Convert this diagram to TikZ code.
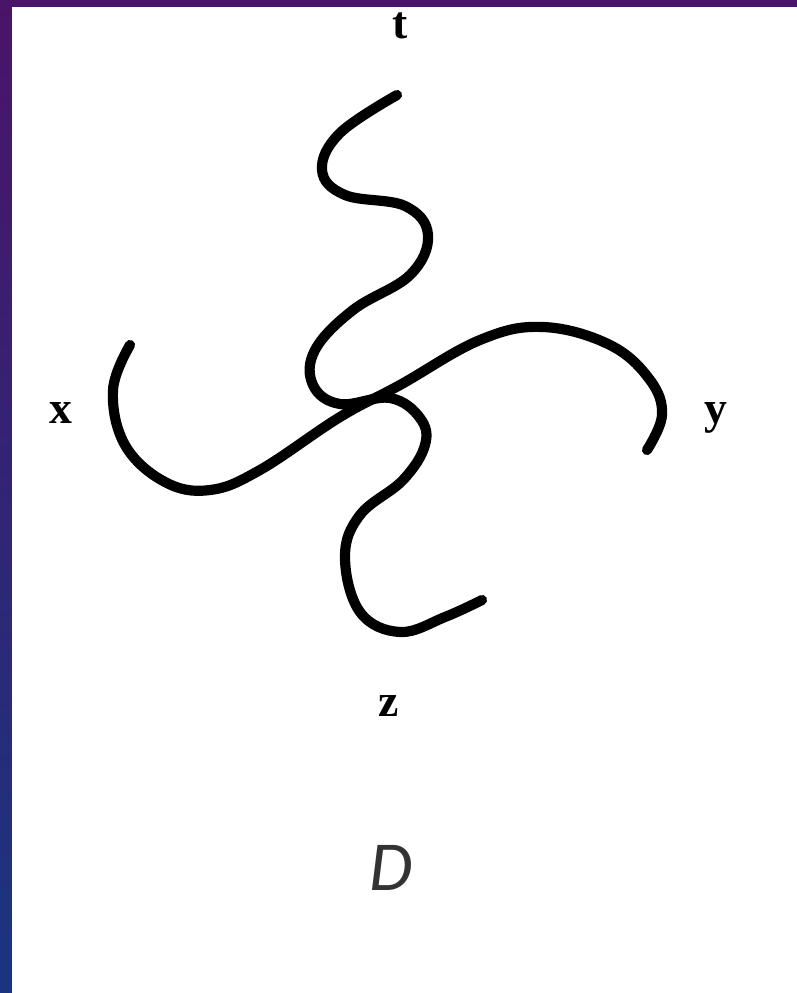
\documentclass[tikz,border=0pt]{standalone}
\usepackage{fontspec}
\setmainfont{Liberation Serif}
\newfontfamily\capfont{Carlito}
\definecolor{bordoviola}{HTML}{4A1468}
\definecolor{bordoblu}{HTML}{1A3580}
\tikzset{
    filo/.style={line width=5.8pt,line cap=round,line join=round},
    lettera/.style={font=\fontsize{26pt}{26pt}\selectfont\bfseries,inner sep=0pt},
}
\begin{document}
\begin{tikzpicture}[x=0.02cm,y=-0.02cm]
        \useasboundingbox (0,0) rectangle (797,993);
        %cornice
        \shade[top color=bordoviola,bottom color=bordoblu](0,0) rectangle (12,993);
        \fill[bordoviola](0,0) rectangle (797,7);
        \fill[white](12,7) rectangle (797,993);
        %curva t-z
        \draw[filo] plot[smooth,tension=0.65] coordinates {(397,95) (340,133) (322,170) (345,195)
              (405,206) (428,235) (410,275) (353,310) (315,350) (313,385) (340,404) (390,398)
              (420,418) (425,445) (403,480) (360,515) (345,557) (360,612) (400,632) (445,617)
              (482,600)};
        %curva x-y
        \draw[filo] plot[smooth,tension=0.65] coordinates {(130,345) (113,390) (125,445) (165,482)
              (210,490) (260,470) (340,417) (400,385) (480,340) (543,327) (610,345) (650,380)
              (662,415) (647,450)};
        %label
        \node[lettera] (t) at (400,26) {t};
        \node[lettera] (x) at (61,413) {x};
        \node[lettera] (y) at (716,418) {y};
        \node[lettera] (z) at (389,706) {z};
        \node[font=\fontsize{40pt}{40pt}\selectfont\capfont\itshape,text=black!80] (D) at (391,868) {D};
\end{tikzpicture}
\end{document}
